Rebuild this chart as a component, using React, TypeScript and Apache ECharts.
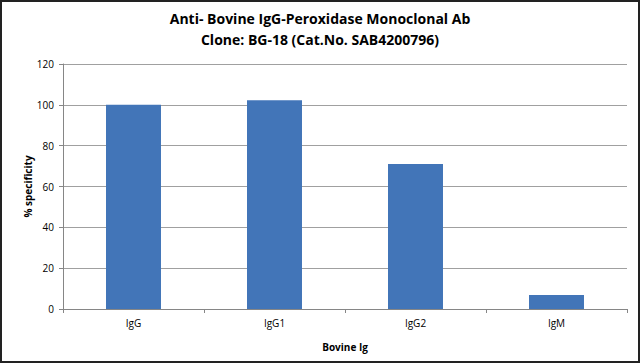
import React, { useEffect, useRef } from "react";
import * as echarts from "echarts";

const categories = ["IgG", "IgG1", "IgG2", "IgM"];
const specificity = [100, 102.3, 71, 6.8];
const titleLines = ["Anti- Bovine IgG-Peroxidase Monoclonal Ab", "Clone: BG-18 (Cat.No. SAB4200796)"];

export default function App() {
  const ref = useRef<HTMLDivElement>(null);
  useEffect(() => {
    const chart = echarts.init(ref.current!, null, { renderer: "svg" });
    const font = "'Open Sans', 'Noto Sans', sans-serif";
    chart.setOption({
      animation: false,
      backgroundColor: "#fff",
      title: {
        text: titleLines.join("\n"),
        left: "center",
        top: 3,
        textStyle: { fontFamily: font, fontSize: 14, fontWeight: "bold", color: "#000", lineHeight: 21 },
      },
      grid: { left: 63, right: 13, top: 64, bottom: 54 },
      xAxis: {
        type: "category",
        data: categories,
        name: "Bovine Ig",
        nameLocation: "middle",
        nameGap: 33,
        nameTextStyle: { fontFamily: font, fontSize: 10, fontWeight: "bold", color: "#000" },
        axisLine: { lineStyle: { color: "#868686" } },
        axisTick: { show: true, length: 4, lineStyle: { color: "#868686" } },
        axisLabel: { fontFamily: font, fontSize: 10, color: "#000", margin: 9 },
      },
      yAxis: {
        type: "value",
        min: 0,
        max: 120,
        interval: 20,
        name: "% specificity",
        nameLocation: "middle",
        nameGap: 30,
        nameMoveOverlap: false,
        nameTextStyle: { fontFamily: font, fontSize: 10, fontWeight: "bold", color: "#000" },
        axisLine: { show: true, lineStyle: { color: "#868686" } },
        axisTick: { show: true, length: 4, lineStyle: { color: "#868686" } },
        axisLabel: { fontFamily: font, fontSize: 10, color: "#000", margin: 9 },
        splitLine: { lineStyle: { color: "#a0a0a0" } },
      },
      series: [
        {
          type: "bar",
          data: specificity,
          barWidth: "39%",
          itemStyle: { color: "#4275b8" },
        },
      ],
    });
    return () => chart.dispose();
  }, []);
  return (
    <div style={{ position: "fixed", left: 0, top: 0, width: 640, height: 363, background: "#fff" }}>
      <div ref={ref} style={{ position: "absolute", left: 0, top: 0, width: 640, height: 363 }} />
      <div
        style={{
          position: "absolute",
          left: 0,
          top: 0,
          width: 640,
          height: 363,
          boxSizing: "border-box",
          border: "2px solid #222",
          pointerEvents: "none",
        }}
      />
    </div>
  );
}
